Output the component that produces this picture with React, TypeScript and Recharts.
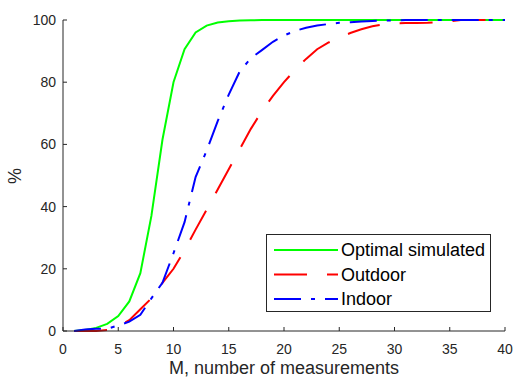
import React from "react";
import { Label, Legend, Line, LineChart, XAxis, YAxis } from "recharts";

// number of measurements M = 1..40
const measurements = Array.from({ length: 40 }, (_, i) => i + 1);

const optimalSimulated = [
  0, 0.3, 1, 2.3, 4.8, 9.5, 18.6, 37, 61.5, 80,
  90.6, 96, 98.2, 99.2, 99.6, 99.8, 99.9, 100, 100, 100,
  100, 100, 100, 100, 100, 100, 100, 100, 100, 100,
  100, 100, 100, 100, 100, 100, 100, 100, 100, 100,
];

const outdoor = [
  0, 0, 0, 0.3, 1.5, 3.5, 7, 10.5, 15.5, 20,
  26, 32.6, 39, 45.5, 52, 58.5, 65, 70.7, 75.6, 80,
  84, 87.5, 90.6, 92.7, 94.4, 95.8, 97, 98, 98.6, 98.9,
  99, 99, 99.1, 99.3, 99.6, 100, 100, 100, 100, 100,
];

const indoor = [
  0, 0.5, 0.7, 0.7, 1.8, 3, 5.2, 10.5, 15.5, 25,
  35, 49.5, 58, 67.5, 76, 83.5, 87.7, 90.3, 93, 95,
  96.5, 97.5, 98.2, 98.7, 99.1, 99.3, 99.5, 99.7, 99.8, 99.9,
  100, 100, 100, 100, 100, 100, 100, 100, 100, 100,
];

const xTicks = [0, 5, 10, 15, 20, 25, 30, 35, 40];
const yTicks = [0, 20, 40, 60, 80, 100];

const series = [
  { key: "optimal", name: "Optimal simulated", color: "#00ff00", dash: undefined },
  { key: "outdoor", name: "Outdoor", color: "#ff0000", dash: "33 20" },
  { key: "indoor", name: "Indoor", color: "#0000ff", dash: "27 10 4 10" },
];

const data = measurements.map((m, i) => ({
  m,
  optimal: optimalSimulated[i],
  outdoor: outdoor[i],
  indoor: indoor[i],
}));

const FONT = "'Liberation Sans', Arial, sans-serif";
const INK = "#262626";

// MATLAB-style ticks: marks point into the plot
const XTick = ({ x, y, payload }: any) => (
  <g>
    <line x1={x} x2={x} y1={y} y2={y - 4} stroke={INK} />
    <text x={x} y={y + 23} textAnchor="middle" fontSize={14} fontFamily={FONT} fill={INK}>
      {payload.value}
    </text>
  </g>
);

const YTick = ({ x, y, payload }: any) => (
  <g>
    <line x1={x} x2={x + 4} y1={y} y2={y} stroke={INK} />
    <text x={x - 7} y={y + 5} textAnchor="end" fontSize={14} fontFamily={FONT} fill={INK}>
      {payload.value}
    </text>
  </g>
);

const LegendBox = () => (
  <div
    style={{
      width: 223,
      height: 76,
      border: `1px solid ${INK}`,
      background: "#fff",
      boxSizing: "content-box",
    }}
  >
    <svg width={223} height={76}>
      {series.map((s, i) => (
        <g key={s.key}>
          <line
            x1={7}
            x2={71}
            y1={15 + i * 24.5}
            y2={15 + i * 24.5}
            stroke={s.color}
            strokeWidth={2}
            strokeDasharray={s.dash}
          />
          <text x={74} y={21 + i * 24.5} fontSize={18} fontFamily={FONT} fill="#000">
            {s.name}
          </text>
        </g>
      ))}
    </svg>
  </div>
);

export default function App() {
  return (
    <div style={{ position: "absolute", left: 0, top: 0, background: "#fff" }}>
      <LineChart
        width={513}
        height={379}
        data={data}
        margin={{ top: 20, right: 8, bottom: 0, left: 23 }}
      >
        <XAxis
          type="number"
          dataKey="m"
          domain={[0, 40]}
          ticks={xTicks}
          tickLine={false}
          tickSize={0}
          tickMargin={0}
          tick={<XTick />}
          axisLine={{ stroke: INK }}
          height={48}
        >
          <Label
            content={() => (
              <text x={284} y={374} textAnchor="middle" fontSize={18} fontFamily={FONT} fill={INK}>
                M, number of measurements
              </text>
            )}
          />
        </XAxis>
        <YAxis
          type="number"
          domain={[0, 100]}
          ticks={yTicks}
          tickLine={false}
          tickSize={0}
          tickMargin={0}
          tick={<YTick />}
          axisLine={{ stroke: INK }}
          width={40}
        >
          <Label
            content={() => (
              <text
                x={0}
                y={0}
                transform="translate(21,176) rotate(-90)"
                textAnchor="middle"
                fontSize={18}
                fontFamily={FONT}
                fill={INK}
              >
                %
              </text>
            )}
          />
        </YAxis>
        <Legend
          layout="vertical"
          align="center"
          verticalAlign="middle"
          content={<LegendBox />}
          wrapperStyle={{ left: 266, top: 234, width: 225, height: 78 }}
        />
        {series.map((s) => (
          <Line
            key={s.key}
            type="linear"
            dataKey={s.key}
            name={s.name}
            stroke={s.color}
            strokeWidth={2}
            strokeDasharray={s.dash}
            dot={false}
            activeDot={false}
            isAnimationActive={false}
          />
        ))}
      </LineChart>
    </div>
  );
}
